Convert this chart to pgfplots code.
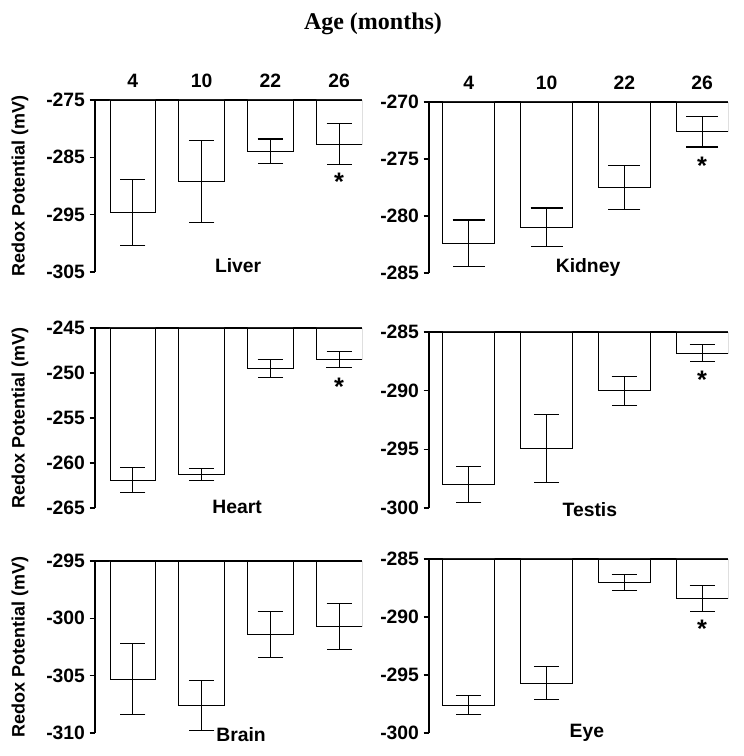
\documentclass[border=0pt]{standalone}
\usepackage{fontspec}
\setmainfont{Liberation Sans}
\newfontfamily\titlefont{Liberation Serif}
\usepackage{pgfplots}
\pgfplotsset{compat=1.18}
\pgfplotsset{
  panel/.style={
    scale only axis,
    axis x line=top,
    axis y line=left,
    axis line style={-, line width=1.6pt},
    ybar,
    bar width=0.664,
    xmin=-0.55, xmax=3.332,
    xtick={0,1,2,3},
    xticklabels={4,10,22,26},
    major x tick style={draw=none},
    tick align=outside,
    major y tick style={line width=0.9pt, black},
    major tick length=4pt,
    clip mode=individual,
    tick label style={font=\bfseries\fontsize{14.5}{14.5}\selectfont},
    /pgf/number format/assume math mode=true,
    xticklabel style={yshift=2pt},
    every axis y label/.style={at={(rel axis cs:0,0.5)}, xshift=-56.25pt, rotate=90, anchor=center, font=\bfseries\fontsize{13.5}{13.5}\selectfont},
    error bars/y dir=both,
    error bars/y explicit,
    error bars/error bar style={line width=0.8pt, black},
    error bars/error mark options={rotate=90, mark size=9.5pt, line width=0.8pt, black},
  },
  barsty/.style={draw=black, fill=white, line width=0.7pt},
}
\tikzset{
  organname/.style={font=\bfseries\fontsize{14.5}{14.5}\selectfont},
  starmark/.style={font=\bfseries\fontsize{19}{19}\selectfont},
}
\begin{document}
\begin{tikzpicture}
\path (0pt,0pt) rectangle (557.25pt,567pt);
\node[font=\titlefont\bfseries\fontsize{18}{18}\selectfont] at (279.75pt,549pt) {Age (months)};

% Liver
\begin{axis}[panel, at={(71.25pt,363pt)}, anchor=south west, width=200.25pt, height=129pt,
  ymin=-305, ymax=-275, ytick={-305,-295,-285,-275}, ylabel={Redox Potential (mV)}]
\addplot[barsty] coordinates {(0,-294.6) +- (0,5.8) (1,-289.2) +- (0,7.2) (2,-283.9) +- (0,2.1) (3,-282.7) +- (0,3.6)};
\node[organname] at (rel axis cs:0.536,0.04) {Liver};
\node[starmark] at (axis cs:3,-289.3) {*};
\end{axis}

% Kidney
\begin{axis}[panel, at={(321.75pt,362.25pt)}, anchor=south west, width=224.25pt, height=128.25pt,
  xmin=-0.51, xmax=3.332,
  ymin=-285, ymax=-270, ytick={-285,-280,-275,-270},
  error bars/error mark options={rotate=90, mark size=12pt, line width=0.8pt, black}]
\addplot[barsty] coordinates {(0,-282.4) +- (0,2.05) (1,-281.0) +- (0,1.7) (2,-277.5) +- (0,1.9) (3,-272.6) +- (0,1.35)};
\node[organname] at (rel axis cs:0.532,0.035) {Kidney};
\node[starmark] at (axis cs:3,-275.6) {*};
\end{axis}

% Heart
\begin{axis}[panel, at={(71.25pt,186pt)}, anchor=south west, width=200.25pt, height=135pt,
  xticklabels={},
  ymin=-265, ymax=-245, ytick={-265,-260,-255,-250,-245}, ylabel={Redox Potential (mV)}]
\addplot[barsty] coordinates {(0,-261.9) +- (0,1.35) (1,-261.3) +- (0,0.65) (2,-249.5) +- (0,1.0) (3,-248.5) +- (0,0.85)};
\node[organname] at (rel axis cs:0.532,0.006) {Heart};
\node[starmark] at (axis cs:3,-251.5) {*};
\end{axis}

% Testis
\begin{axis}[panel, at={(321.75pt,186pt)}, anchor=south west, width=224.25pt, height=132pt,
  xmin=-0.51, xmax=3.332, xticklabels={},
  ymin=-300, ymax=-285, ytick={-300,-295,-290,-285}]
\addplot[barsty] coordinates {(0,-298.0) +- (0,1.55) (1,-294.9) +- (0,2.9) (2,-290.0) +- (0,1.23) (3,-286.8) +- (0,0.7)};
\node[organname] at (rel axis cs:0.538,-0.011) {Testis};
\node[starmark] at (axis cs:3,-289.1) {*};
\end{axis}

% Brain
\begin{axis}[panel, at={(71.25pt,17.25pt)}, anchor=south west, width=200.25pt, height=129pt,
  xticklabels={},
  ymin=-310, ymax=-295, ytick={-310,-305,-300,-295}, ylabel={Redox Potential (mV)}]
\addplot[barsty] coordinates {(0,-305.3) +- (0,3.1) (1,-307.6) +- (0,2.15) (2,-301.4) +- (0,2.0) (3,-300.7) +- (0,2.0)};
\node[organname] at (rel axis cs:0.547,-0.012) {Brain};
\end{axis}

% Eye
\begin{axis}[panel, at={(321.75pt,17.25pt)}, anchor=south west, width=224.25pt, height=130.5pt,
  xmin=-0.51, xmax=3.332, xticklabels={},
  ymin=-300, ymax=-285, ytick={-300,-295,-290,-285}]
\addplot[barsty] coordinates {(0,-297.6) +- (0,0.8) (1,-295.7) +- (0,1.4) (2,-287.0) +- (0,0.7) (3,-288.4) +- (0,1.1)};
\node[organname] at (rel axis cs:0.528,0) {Eye};
\node[starmark] at (axis cs:3,-291.0) {*};
\end{axis}
\end{tikzpicture}
\end{document}
